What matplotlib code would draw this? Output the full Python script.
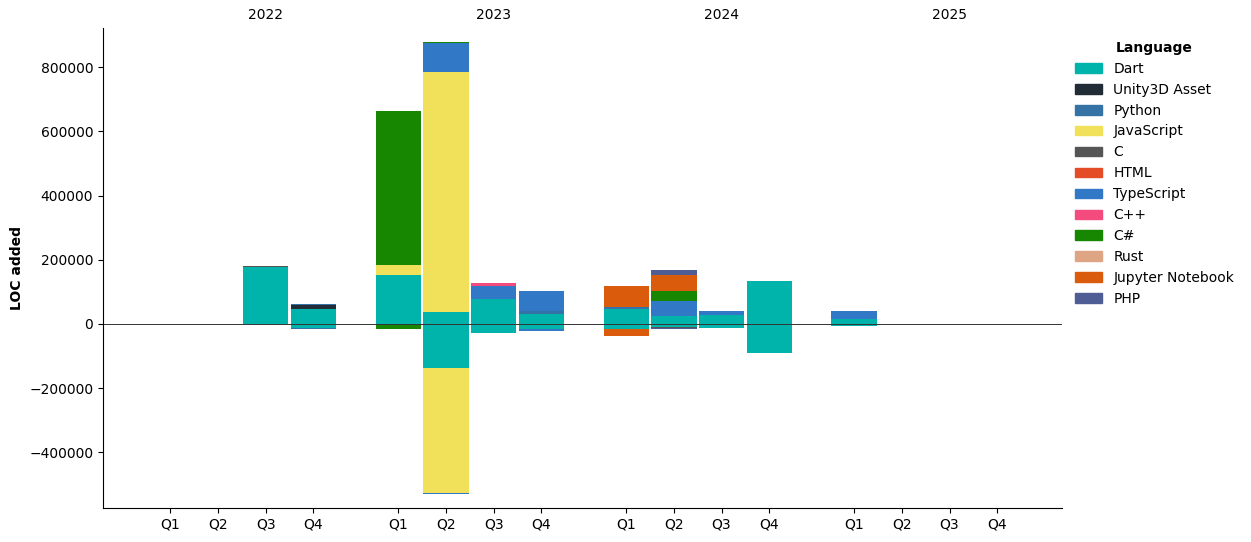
import numpy as np
import matplotlib
matplotlib.use("Agg")
import matplotlib.pyplot as plt
from matplotlib.patches import Patch

years = ["2022", "2023", "2024", "2025"]
quarters = ["Q1", "Q2", "Q3", "Q4"]

languages = ["Dart", "Unity3D Asset", "Python", "JavaScript", "C", "HTML",
             "TypeScript", "C++", "C#", "Rust", "Jupyter Notebook", "PHP"]
colors = ["#00B4AB", "#222C37", "#3572A5", "#F1E05A", "#555555", "#E34C26",
          "#3178C6", "#F34B7D", "#178600", "#DEA584", "#DA5B0B", "#4F5D95"]

# LOC added per quarter (2022 Q1 .. 2025 Q4), positive and negative parts
dart_pos = [0, 0, 177000, 47000, 152000, 37000, 78000, 31000, 47000, 25000, 28000, 133000, 15000, 0, 0, 0]
dart_neg = [0, 0, 0, -12000, 0, -138000, -28000, -15000, -16000, -8000, -11000, -90000, -5000, 0, 0, 0]
unity_pos = [0, 0, 0, 13000, 0, 0, 0, 0, 0, 0, 0, 0, 0, 0, 0, 0]
unity_neg = [0] * 16
python_pos = [0, 0, 0, 3000, 0, 0, 0, 9000, 5000, 0, 0, 0, 0, 0, 0, 0]
python_neg = [0, 0, 0, -3000, 0, 0, 0, 0, 0, 0, 0, 0, 0, 0, 0, 0]
js_pos = [0, 0, 0, 0, 31000, 748000, 0, 0, 0, 0, 0, 0, 0, 0, 0, 0]
js_neg = [0, 0, 0, 0, 0, -388000, 0, 0, 0, 0, 0, 0, 0, 0, 0, 0]
c_pos = [0, 0, 3000, 0, 0, 0, 0, 0, 0, 0, 0, 0, 0, 0, 0, 0]
c_neg = [0, 0, 0, 0, 0, 0, 0, 0, 0, -4000, 0, 0, 0, 0, 0, 0]
html_pos = [0] * 16
html_neg = [0] * 16
ts_pos = [0, 0, 0, 0, 0, 91000, 41000, 63000, 0, 46000, 12000, 1500, 25000, 0, 0, 0]
ts_neg = [0, 0, 0, 0, 0, -3000, 0, -6000, 0, 0, 0, 0, 0, 0, 0, 0]
cpp_pos = [0, 0, 0, 0, 0, 0, 8000, 0, 0, 0, 0, 0, 0, 0, 0, 0]
cpp_neg = [0] * 16
csharp_pos = [0, 0, 0, 0, 479000, 2000, 0, 0, 0, 31000, 0, 0, 0, 0, 0, 0]
csharp_neg = [0, 0, 0, 0, -15000, 0, 0, 0, 0, 0, 0, 0, 0, 0, 0, 0]
rust_pos = [0] * 16
rust_neg = [0] * 16
jupyter_pos = [0, 0, 0, 0, 0, 0, 0, 0, 65000, 50000, 0, 0, 0, 0, 0, 0]
jupyter_neg = [0, 0, 0, 0, 0, 0, 0, 0, -21000, 0, 0, 0, 0, 0, 0, 0]
php_pos = [0, 0, 0, 0, 0, 0, 0, 0, 0, 16000, 0, 0, 0, 0, 0, 0]
php_neg = [0, 0, 0, 0, 0, 0, 0, 0, 0, -3000, 0, 0, 0, 0, 0, 0]

pos_data = [dart_pos, unity_pos, python_pos, js_pos, c_pos, html_pos,
            ts_pos, cpp_pos, csharp_pos, rust_pos, jupyter_pos, php_pos]
neg_data = [dart_neg, unity_neg, python_neg, js_neg, c_neg, html_neg,
            ts_neg, cpp_neg, csharp_neg, rust_neg, jupyter_neg, php_neg]

year_step = 4.78
x = np.array([y * year_step + q for y in range(len(years)) for q in range(len(quarters))])

fig, ax = plt.subplots(figsize=(12.51, 5.42), dpi=100)
fig.subplots_adjust(left=0.0823, right=0.849, top=0.948, bottom=0.0627)

bottom_pos = np.zeros(len(x))
bottom_neg = np.zeros(len(x))
for lang, col, pv, nv in zip(languages, colors, pos_data, neg_data):
    pv = np.array(pv, dtype=float)
    nv = np.array(nv, dtype=float)
    ax.bar(x, pv, width=0.95, bottom=bottom_pos, color=col)
    ax.bar(x, nv, width=0.95, bottom=bottom_neg, color=col)
    bottom_pos += pv
    bottom_neg += nv

ax.axhline(0, color="#333333", lw=0.7)

ax.set_xticks(x)
ax.set_xticklabels(quarters * len(years))
ax.tick_params(axis="x", length=3.5)
ax.set_xlim(-1.41, x[-1] + 1.36)
ax.set_ylim(-573000, 921000)
ax.set_ylabel("LOC added", fontweight="bold")

for i, yr in enumerate(years):
    ax.text(i * year_step + 2, 1.012, yr, transform=ax.get_xaxis_transform(),
            ha="center", va="bottom", fontsize=10)

ax.spines["top"].set_visible(False)
ax.spines["right"].set_visible(False)

handles = [Patch(color=c, label=l) for l, c in zip(languages, colors)]
leg = ax.legend(handles=handles, title="Language", loc="upper left",
                bbox_to_anchor=(1.0, 1.0), frameon=False)
leg.get_title().set_fontweight("bold")

fig.savefig("out.png", dpi=100)
